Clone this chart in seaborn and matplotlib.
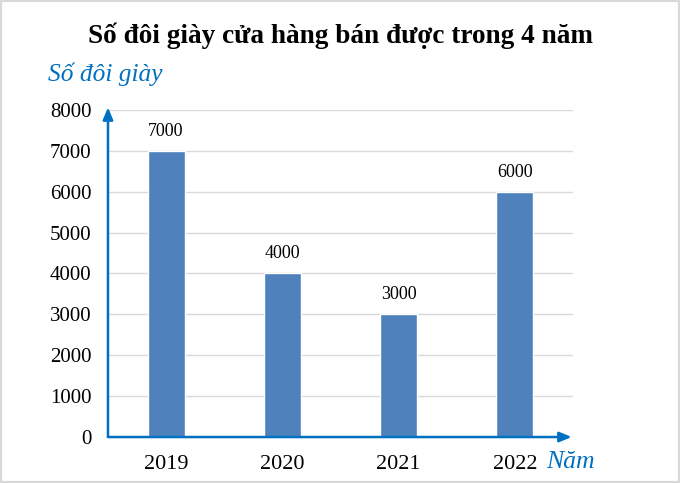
import matplotlib
matplotlib.use("Agg")
import matplotlib.pyplot as plt
import seaborn as sns
import pandas as pd
from matplotlib.patches import Rectangle

years = ["2019", "2020", "2021", "2022"]
pairs = [7000, 4000, 3000, 6000]
yticks = [0, 1000, 2000, 3000, 4000, 5000, 6000, 7000, 8000]

title = "Số đôi giày cửa hàng bán được trong 4 năm"
ylabel = "Số đôi giày"
xlabel = "Năm"

sns.set_theme(style="white")
plt.rcParams['font.family'] = ['Liberation Serif', 'DejaVu Serif']

BLUE_AXIS = "#0070C0"
BAR = "#4F81BD"

df = pd.DataFrame({"year": years, "pairs": pairs})

fig = plt.figure(figsize=(6.8, 4.83), dpi=100)
ax = fig.add_axes([0.1588, 0.0952, 0.6838, 0.6771])

sns.barplot(data=df, x="year", y="pairs", color=BAR, width=0.32,
            saturation=1, ax=ax, zorder=3)
ax.set_xlim(-0.5, 3.5)
ax.set_ylim(0, 8000)
ax.set_yticks(yticks)
ax.set_yticklabels([str(v) for v in yticks], fontsize=15)
ax.yaxis.grid(True, color="#d9d9d9", linewidth=1, zorder=0)
ax.set_axisbelow(True)
for s in ax.spines.values():
    s.set_visible(False)
ax.tick_params(axis="y", direction="inout", length=12, width=1.2,
               color=BLUE_AXIS, pad=6, labelcolor="black")
ax.tick_params(axis="x", length=0, pad=13, labelsize=16, labelcolor="black")
ax.set_xlabel("")
ax.set_ylabel("")

for c in ax.containers:
    ax.bar_label(c, fmt="%d", padding=8, fontsize=13, color="black")

# axes arrows
ax.annotate("", xy=(0, 1.008), xytext=(0, 0), xycoords="axes fraction",
            textcoords="axes fraction",
            arrowprops=dict(arrowstyle="-|>,head_length=0.6,head_width=0.25",
                            color=BLUE_AXIS, lw=1.8, shrinkA=0, shrinkB=0),
            annotation_clip=False)
ax.annotate("", xy=(0.997, 0), xytext=(0, 0), xycoords="axes fraction",
            textcoords="axes fraction",
            arrowprops=dict(arrowstyle="-|>,head_length=0.6,head_width=0.25",
                            color=BLUE_AXIS, lw=1.8, shrinkA=0, shrinkB=0),
            annotation_clip=False)

fig.text(0.5, 0.926, title, ha="center", va="center", fontsize=19.6,
         fontweight="bold", color="black")
fig.text(0.071, 0.846, ylabel, ha="left", va="center", fontsize=18.3,
         style="italic", color=BLUE_AXIS)
fig.text(0.803, 0.044, xlabel, ha="left", va="center", fontsize=18.5,
         style="italic", color=BLUE_AXIS)

fig.patches.append(Rectangle((0, 0), 1, 1, transform=fig.transFigure,
                             fill=False, edgecolor="#d9d9d9", linewidth=3,
                             zorder=10))

fig.savefig("out.png", dpi=100)
